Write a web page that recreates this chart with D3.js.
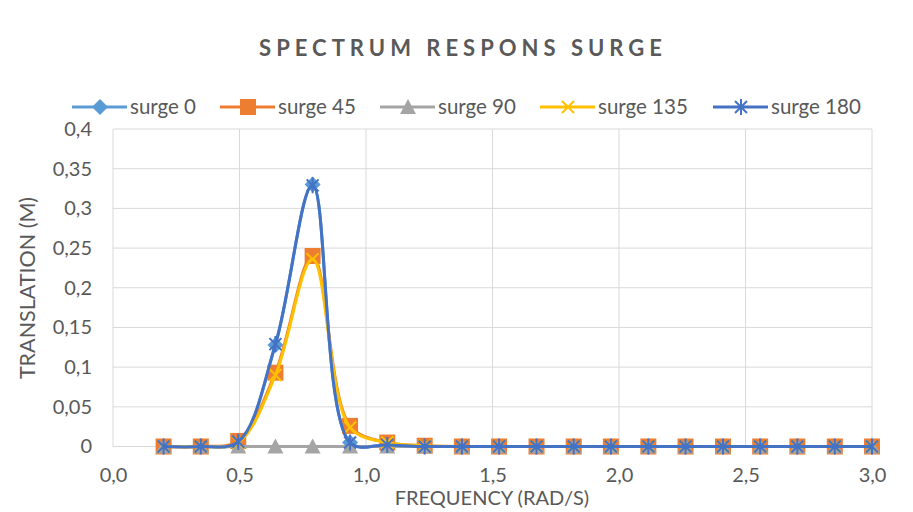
<!DOCTYPE html>
<html><head><meta charset="utf-8">
<script src="https://cdn.jsdelivr.net/npm/d3@7"></script>
<style>body{margin:0;background:#fff}svg{font-family:Lato,"Open Sans",sans-serif}</style>
</head><body><svg id="c" width="913" height="512"></svg>
<script>
const freq = [0.2, 0.347, 0.495, 0.642, 0.789, 0.937, 1.084, 1.232, 1.379, 1.526, 1.674, 1.821, 1.968, 2.116, 2.263, 2.411, 2.558, 2.705, 2.853, 3.0];
const surge0   = [0, 0, 0.005, 0.128, 0.330, 0.005, 0.002, 0, 0, 0, 0, 0, 0, 0, 0, 0, 0, 0, 0, 0];
const surge45  = [0, 0, 0.007, 0.093, 0.240, 0.026, 0.005, 0.001, 0, 0, 0, 0, 0, 0, 0, 0, 0, 0, 0, 0];
const surge90  = [0, 0, 0, 0, 0, 0, 0, 0, 0, 0, 0, 0, 0, 0, 0, 0, 0, 0, 0, 0];
const surge135 = [0, 0, 0.005, 0.090, 0.236, 0.024, 0.005, 0.001, 0, 0, 0, 0, 0, 0, 0, 0, 0, 0, 0, 0];
const surge180 = [0, 0, 0.006, 0.129, 0.329, 0.005, 0.002, 0, 0, 0, 0, 0, 0, 0, 0, 0, 0, 0, 0, 0];
const seriesNames = ["surge 0", "surge 45", "surge 90", "surge 135", "surge 180"];
const seriesColors = ["#5B9BD5", "#ED7D31", "#A5A5A5", "#FFC000", "#4472C4"];
const seriesMarkers = ["diamond", "square", "triangle", "x", "star"];
const xTicks = [0, 0.5, 1.0, 1.5, 2.0, 2.5, 3.0];
const yTicks = [0, 0.05, 0.1, 0.15, 0.2, 0.25, 0.3, 0.35, 0.4];
const title = "SPECTRUM RESPONS SURGE";
const xTitle = "FREQUENCY (RAD/S)";
const yTitle = "TRANSLATION (M)";

const allSeries = [surge0, surge45, surge90, surge135, surge180];
const svg = d3.select("#c");
const m = {l:113, r:872, t:129, b:446.5};
const x = d3.scaleLinear().domain([0,3]).range([m.l, m.r]);
const y = d3.scaleLinear().domain([0,0.4]).range([m.b, m.t]);
const fmt = d => d3.format(".1f")(d).replace(".", ",");
const fmtY = d => (d===0?"0":String(+d.toFixed(2))).replace(".", ",");
const grid = "#D9D9D9", txt = "#595959";

// grid
svg.append("g").selectAll("line").data(yTicks).join("line")
  .attr("x1", m.l).attr("x2", m.r).attr("y1", d=>y(d)).attr("y2", d=>y(d))
  .attr("stroke", grid).attr("stroke-width", 1);
svg.append("g").selectAll("line").data(xTicks).join("line")
  .attr("x1", d=>x(d)).attr("x2", d=>x(d)).attr("y1", m.t).attr("y2", m.b)
  .attr("stroke", grid).attr("stroke-width", 1);

// axes labels
const xa = svg.append("g").attr("transform", `translate(0,${m.b})`)
  .call(d3.axisBottom(x).tickValues(xTicks).tickFormat(fmt).tickSize(0).tickPadding(21));
const ya = svg.append("g").attr("transform", `translate(${m.l},0)`)
  .call(d3.axisLeft(y).tickValues(yTicks).tickFormat(fmtY).tickSize(0).tickPadding(21));
[xa, ya].forEach(a => {
  a.select(".domain").remove();
  a.selectAll("text").attr("fill", txt).style("font-size", "20px").style("font-family", "Lato, sans-serif");
});

// title
svg.append("text").attr("x", 463).attr("y", 56).attr("text-anchor", "middle")
  .attr("fill", txt).style("font-size", "22px").style("font-weight", "bold").style("letter-spacing", "5px")
  .text(title);
svg.append("text").attr("x", 492).attr("y", 505).attr("text-anchor", "middle")
  .attr("fill", txt).style("font-size", "20px").text(xTitle);
svg.append("text").attr("transform", "translate(35,288) rotate(-90)").attr("text-anchor", "middle")
  .attr("fill", txt).style("font-size", "21.5px").text(yTitle);

// markers
function drawMarker(g, type, color, cx, cy) {
  if (type === "diamond") {
    g.append("path").attr("d", `M${cx},${cy-8}L${cx+8},${cy}L${cx},${cy+8}L${cx-8},${cy}Z`).attr("fill", color);
  } else if (type === "square") {
    g.append("rect").attr("x", cx-8).attr("y", cy-8).attr("width", 16).attr("height", 16).attr("fill", color);
  } else if (type === "triangle") {
    g.append("path").attr("d", `M${cx},${cy-8}L${cx+8},${cy+7}L${cx-8},${cy+7}Z`).attr("fill", color);
  } else if (type === "x") {
    g.append("path").attr("d", `M${cx-6},${cy-6}L${cx+6},${cy+6}M${cx-6},${cy+6}L${cx+6},${cy-6}`)
      .attr("stroke", color).attr("stroke-width", 2);
  } else if (type === "star") {
    g.append("path").attr("d", `M${cx-6},${cy-6}L${cx+6},${cy+6}M${cx-6},${cy+6}L${cx+6},${cy-6}M${cx},${cy-8}L${cx},${cy+8}`)
      .attr("stroke", color).attr("stroke-width", 2);
  }
}

const line = d3.line().x(d=>x(d[0])).y(d=>y(d[1])).curve(d3.curveCatmullRom.alpha(0.5));
allSeries.forEach((vals, i) => {
  const pts = freq.map((f, j) => [f, vals[j]]);
  const g = svg.append("g");
  g.append("path").datum(pts).attr("d", line).attr("fill", "none")
    .attr("stroke", seriesColors[i]).attr("stroke-width", 3).attr("stroke-linejoin", "round");
  pts.forEach(p => drawMarker(g, seriesMarkers[i], seriesColors[i], x(p[0]), y(p[1])));
});

// legend
const legX = [72, 220, 380, 540, 713];
seriesNames.forEach((n, i) => {
  const g = svg.append("g");
  const lx = legX[i];
  g.append("line").attr("x1", lx).attr("x2", lx+55).attr("y1", 107).attr("y2", 107)
    .attr("stroke", seriesColors[i]).attr("stroke-width", 3);
  drawMarker(g, seriesMarkers[i], seriesColors[i], lx+28, 107);
  g.append("text").attr("x", lx+58).attr("y", 114).attr("fill", txt).style("font-size", "20.5px").text(n);
});
</script></body></html>
